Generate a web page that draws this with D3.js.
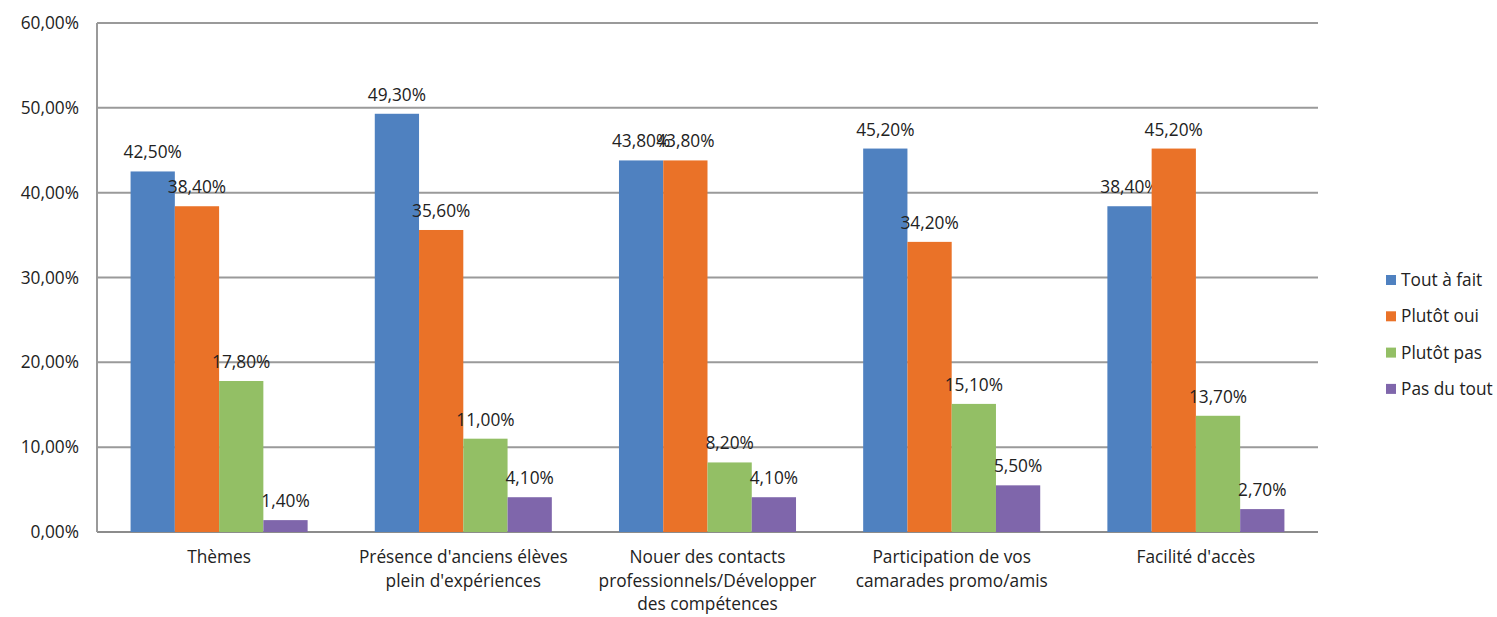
<!DOCTYPE html>
<html><head><meta charset="utf-8">
<script src="https://cdn.jsdelivr.net/npm/d3@7"></script>
<style>body{margin:0;background:#fff}svg{display:block}text{font-family:"Open Sans","Noto Sans",sans-serif;fill:#222}</style>
</head><body><svg id="c" width="1497" height="617"></svg>
<script>
const categories = [["Thèmes"],["Présence d'anciens élèves","plein d'expériences"],["Nouer des contacts","professionnels/Développer","des compétences"],["Participation de vos","camarades promo/amis"],["Facilité d'accès"]];
const series = ["Tout à fait","Plutôt oui","Plutôt pas","Pas du tout"];
const toutAFait = [42.5,49.3,43.8,45.2,38.4];
const plutotOui = [38.4,35.6,43.8,34.2,45.2];
const plutotPas = [17.8,11.0,8.2,15.1,13.7];
const pasDuTout = [1.4,4.1,4.1,5.5,2.7];
const yTicks = [0,10,20,30,40,50,60];
const colors = ["#4f81c0","#ea7228","#93bf65","#7f66ab"];
const values = [toutAFait,plutotOui,plutotPas,pasDuTout];

const svg = d3.select("#c");
const L=97,R=1318,T=23,B=532;
const FS=17.3;
const fmt = v => v.toFixed(2).replace(".",",")+"%";
const x0 = d3.scaleBand().domain(d3.range(categories.length)).range([L,R]).paddingInner(0.275).paddingOuter(0.1375);
const x1 = d3.scaleBand().domain(d3.range(series.length)).range([0,x0.bandwidth()]);
const y = d3.scaleLinear().domain([0,60]).range([B,T]);

svg.append("g").selectAll("line").data(yTicks).join("line")
 .attr("x1",L).attr("x2",R).attr("y1",d=>y(d)).attr("y2",d=>y(d))
 .attr("stroke",d=>d===0?"#8c8c8c":"#9a9a9a").attr("stroke-width",2);
svg.append("line").attr("x1",L).attr("x2",L).attr("y1",T).attr("y2",B).attr("stroke","#9a9a9a").attr("stroke-width",2);
svg.append("g").selectAll("text").data(yTicks).join("text")
 .attr("x",79).attr("y",d=>y(d)+6).attr("text-anchor","end").attr("font-size",FS).text(d=>fmt(d));

const g = svg.append("g");
values.forEach((vals,s)=>{
  g.append("g").selectAll("rect").data(vals).join("rect")
   .attr("x",(d,i)=>x0(i)+x1(s)).attr("width",x1.bandwidth())
   .attr("y",d=>y(d)).attr("height",d=>B-y(d)).attr("fill",colors[s]);
  g.append("g").selectAll("text").data(vals).join("text")
   .attr("x",(d,i)=>x0(i)+x1(s)+x1.bandwidth()/2).attr("y",d=>y(d)-13)
   .attr("text-anchor","middle").attr("font-size",FS).text(d=>fmt(d));
});

const cl = svg.append("g");
categories.forEach((lines,i)=>{
  const t = cl.append("text").attr("text-anchor","middle").attr("font-size",FS);
  lines.forEach((ln,j)=>t.append("tspan").attr("x",x0(i)+x0.bandwidth()/2).attr("y",563+j*23.5).text(ln));
});

const lg = svg.append("g");
series.forEach((s,i)=>{
  const yy = 280+i*36.3;
  lg.append("rect").attr("x",1386).attr("y",yy-5).attr("width",10).attr("height",10).attr("fill",colors[i]);
  lg.append("text").attr("x",1401).attr("y",yy+6).attr("font-size",FS).text(s);
});
</script></body></html>
